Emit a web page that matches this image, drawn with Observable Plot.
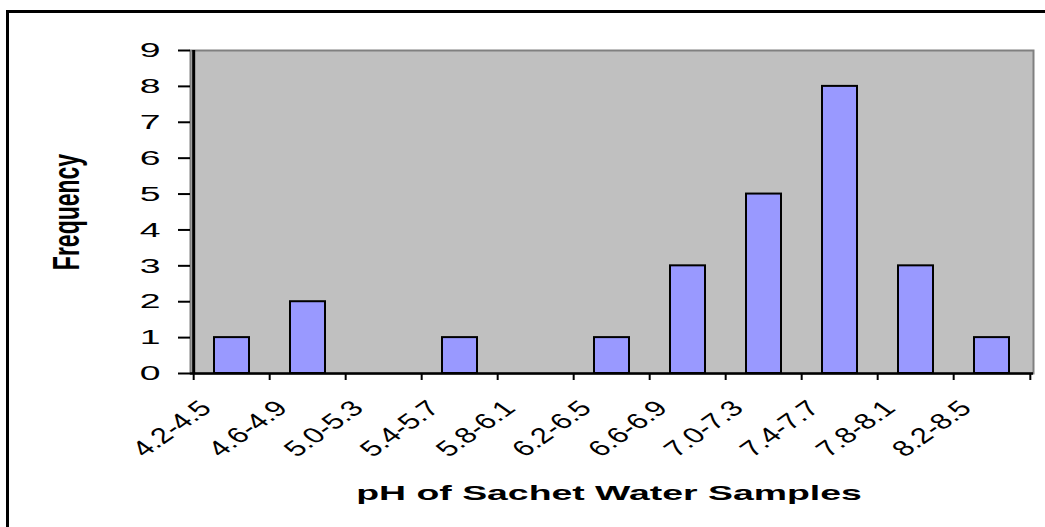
<!DOCTYPE html>
<html>
<head>
<meta charset="utf-8">
<script src="https://cdn.jsdelivr.net/npm/d3@7"></script>
<script src="https://cdn.jsdelivr.net/npm/@observablehq/plot@0.6"></script>
<style>
  html, body { margin: 0; padding: 0; background: #fff; overflow: hidden; width: 1045px; height: 527px; }
  #border { position: absolute; left: 6px; top: 10px; width: 1100px; height: 600px; border: 3px solid #000; box-sizing: border-box; }
  #chart { position: absolute; left: 0; top: 0; }
  .title { position: absolute; font-family: "Liberation Sans", Arial, sans-serif; font-weight: bold; color: #000; white-space: nowrap; line-height: 1; }
  #xtitle { left: 609px; top: 482px; font-size: 21px; transform: translateX(-50%) scaleX(1.78); }
  #ytitle { left: 67px; top: 212px; font-size: 23px; transform: translate(-50%, -50%) scaleX(1.64) rotate(-90deg); }
</style>
</head>
<body>
<div id="border"></div>
<div id="chart"></div>
<div class="title" id="xtitle">pH of Sachet Water Samples</div>
<div class="title" id="ytitle">Frequency</div>
<script>
const categories = ["4.2-4.5", "4.6-4.9", "5.0-5.3", "5.4-5.7", "5.8-6.1", "6.2-6.5", "6.6-6.9", "7.0-7.3", "7.4-7.7", "7.8-8.1", "8.2-8.5"];
const frequency = [1, 2, 0, 1, 0, 1, 3, 5, 8, 3, 1];
const yTicks = [0, 1, 2, 3, 4, 5, 6, 7, 8, 9];

const W = 1045, H = 470, mL = 190, mR = 12, mT = 50, mB = 97;
const step = (W - mL - mR) / categories.length;
const yStretch = 1.78;   // horizontal stretch of the y tick labels
const xStretch = 1.41;   // horizontal stretch of the slanted x tick labels
const font = "Liberation Sans, Arial, sans-serif";

const data = categories.map((c, i) => ({cat: c, freq: frequency[i]}));

const svg = Plot.plot({
  width: W,
  height: H,
  marginLeft: mL,
  marginRight: mR,
  marginTop: mT,
  marginBottom: mB,
  style: {background: "transparent", overflow: "visible", maxWidth: "none", fontFamily: font},
  x: {type: "band", domain: categories, paddingInner: 0.54, paddingOuter: 0.27},
  y: {domain: [0, 9]},
  marks: [
    Plot.frame({fill: "#c0c0c0", stroke: "#808080", strokeWidth: 2}),
    Plot.barY(data, {x: "cat", y: "freq", filter: d => d.freq > 0, fill: "#9999ff", stroke: "#000", strokeWidth: 2}),
    Plot.ruleY([0], {stroke: "#000", strokeWidth: 2.5}),
    Plot.ruleX([categories[0]], {dx: -step / 2, stroke: "#000", strokeWidth: 3}),
    Plot.axisX(categories, {tickSize: 7, fill: "none", stroke: "#000", strokeWidth: 2, dx: -step / 2, label: null}),
    Plot.axisX([categories[categories.length - 1]], {tickSize: 7, fill: "none", stroke: "#000", strokeWidth: 2, dx: step / 2, label: null}),
    Plot.axisY(yTicks, {tickSize: 12, tickPadding: 18, fontSize: 21, fill: "#000", stroke: "#000", strokeWidth: 2, label: null}),
    Plot.text(categories, {x: d => d, frameAnchor: "bottom", dx: -19, dy: 36, rotate: -45, textAnchor: "end", lineAnchor: "bottom", fontSize: 22, fill: "#000"})
  ]
});

// horizontal stretching of the text, as in the original rendering
svg.querySelectorAll('g[aria-label="y-axis tick label"] text').forEach(t => {
  t.setAttribute("transform", (t.getAttribute("transform") || "") + ` scale(${yStretch},1)`);
});
svg.querySelectorAll('g[aria-label="text"] text').forEach(t => {
  const tr = t.getAttribute("transform") || "";
  t.setAttribute("transform", tr.replace("rotate(", `scale(${xStretch},1) rotate(`));
});

document.getElementById("chart").appendChild(svg);
</script>
</body>
</html>
